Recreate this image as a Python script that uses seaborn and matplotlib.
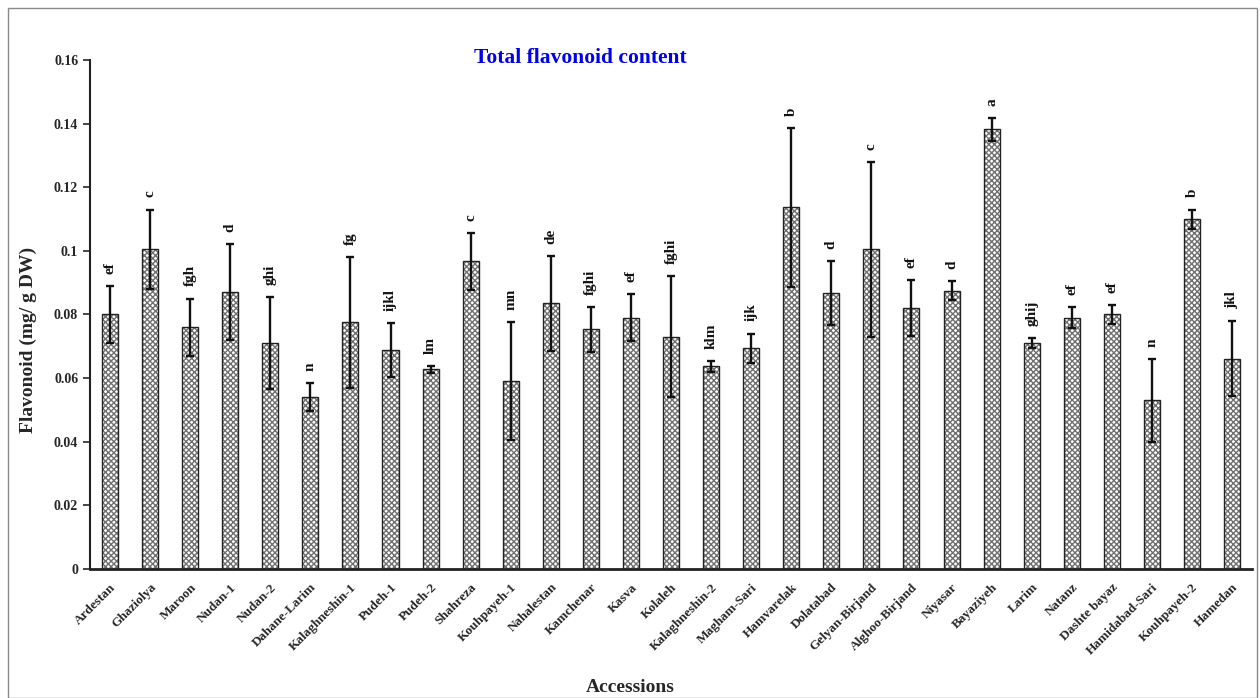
import numpy as np
import pandas as pd
import matplotlib
matplotlib.use("Agg")
import matplotlib.pyplot as plt
import seaborn as sns
from matplotlib.ticker import FuncFormatter
from matplotlib.patches import Rectangle

# accessions and measured means / std. errors (mg/g DW)
accessions = ['Ardestan', 'Ghaziolya', 'Maroon', 'Nudan-1', 'Nudan-2', 'Dahane-Larim',
              'Kalaghneshin-1', 'Pudeh-1', 'Pudeh-2', 'Shahreza', 'Kouhpayeh-1', 'Nahalestan',
              'Kamchenar', 'Kasva', 'Kolaleh', 'Kalaghneshin-2', 'Magham-Sari', 'Hamvarelak',
              'Dolatabad', 'Gelyan-Birjand', 'Alghoo-Birjand', 'Niyasar', 'Bayaziyeh', 'Larim',
              'Natanz', 'Dashte bayaz', 'Hamidabad-Sari', 'Kouhpayeh-2', 'Hamedan']
flavonoid = [0.080, 0.1005, 0.076, 0.087, 0.071, 0.054, 0.0775, 0.0688, 0.0627, 0.0967,
             0.059, 0.0835, 0.0753, 0.079, 0.073, 0.0637, 0.0693, 0.1137, 0.0868, 0.1005,
             0.082, 0.0875, 0.1382, 0.071, 0.079, 0.080, 0.053, 0.110, 0.066]
error = [0.009, 0.0125, 0.009, 0.015, 0.0145, 0.0045, 0.0205, 0.0085, 0.001, 0.009,
         0.0186, 0.015, 0.007, 0.0075, 0.019, 0.0017, 0.0047, 0.025, 0.010, 0.0275,
         0.0087, 0.003, 0.0037, 0.0015, 0.0032, 0.003, 0.013, 0.003, 0.0118]
groups = ['ef', 'c', 'fgh', 'd', 'ghi', 'n', 'fg', 'ijkl', 'lm', 'c', 'mn', 'de', 'fghi', 'ef',
          'fghi', 'klm', 'ijk', 'b', 'd', 'c', 'ef', 'd', 'a', 'ghij', 'ef', 'ef', 'n', 'b', 'jkl']

df = pd.DataFrame({'Accession': accessions, 'Flavonoid': flavonoid, 'SE': error, 'Group': groups})

sns.set_style("white")
plt.rcParams['font.family'] = ['Liberation Serif', 'DejaVu Serif']
plt.rcParams['font.weight'] = 'bold'

fig = plt.figure(figsize=(12.6, 6.98), dpi=100)
ax = fig.add_axes([0.0714, 0.185, 0.9223, 0.729])

# hatched bars (gray hatch), then black outline on top
sns.barplot(data=df, x='Accession', y='Flavonoid', color='white', edgecolor='#707070',
            linewidth=0, hatch='xxxxxx', width=0.4, errorbar=None, ax=ax)
sns.barplot(data=df, x='Accession', y='Flavonoid', fill=False, edgecolor='#222222',
            linewidth=1.0, width=0.4, errorbar=None, ax=ax)

xpos = np.arange(len(df))
ax.errorbar(xpos, df['Flavonoid'], yerr=df['SE'], fmt='none', ecolor='#111111',
            elinewidth=1.7, capsize=3, capthick=1.7, zorder=5)

# significance letters above the error bars
for x, y, e, g in zip(xpos, df['Flavonoid'], df['SE'], df['Group']):
    ax.text(x, y + e + 0.0038, g, rotation=90, ha='center', va='bottom',
            fontsize=11, fontweight='bold', color='#111111')

ax.set_ylim(0, 0.16)
ax.set_xlim(-0.5, len(df) - 0.5)
ax.set_yticks(np.arange(0, 0.161, 0.02))
ax.yaxis.set_major_formatter(FuncFormatter(lambda v, p: f'{round(v, 2):g}'))
ax.tick_params(axis='y', direction='out', length=5, width=1.2, labelsize=10, left=True)
ax.tick_params(axis='x', length=0, labelsize=9.5, pad=9)
plt.setp(ax.get_xticklabels(), rotation=45, ha='right', rotation_mode='anchor', fontweight='bold')
plt.setp(ax.get_yticklabels(), fontweight='bold')

for s in ['top', 'right']:
    ax.spines[s].set_visible(False)
ax.spines['left'].set_color('#222222')
ax.spines['left'].set_linewidth(1.5)
ax.spines['bottom'].set_color('#222222')
ax.spines['bottom'].set_linewidth(2.0)

ax.set_xlabel('Accessions', fontsize=14, fontweight='bold')
ax.xaxis.set_label_coords(0.465, -0.216)
ax.set_ylabel('Flavonoid (mg/ g DW)', fontsize=14, fontweight='bold')
ax.yaxis.set_label_coords(-0.046, 0.45)
ax.text(0.4217, 1.004, 'Total flavonoid content', transform=ax.transAxes, ha='center', va='center',
        fontsize=15.5, fontweight='bold', color='#0000ee')

fig.patches.append(Rectangle((0.0065, 0.0), 0.991, 0.989, transform=fig.transFigure,
                             fill=False, edgecolor='#8a8a8a', linewidth=1.0))

fig.savefig('out.png', dpi=100)
